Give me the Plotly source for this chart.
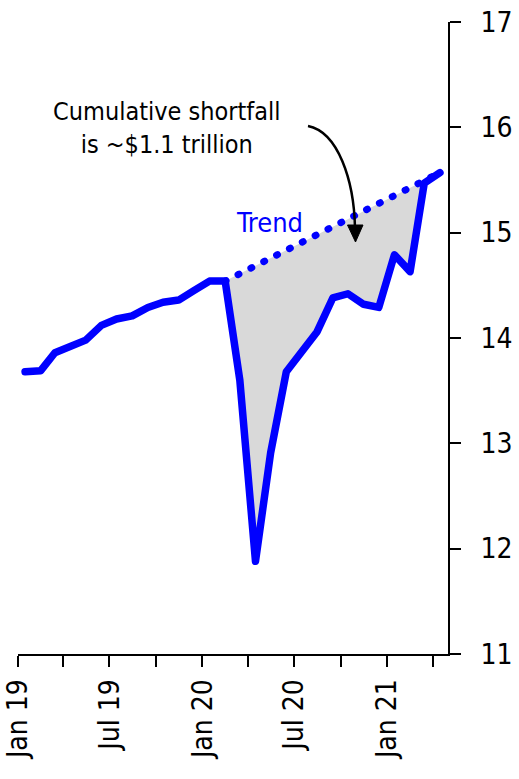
import pandas as pd
import plotly.graph_objects as go

# Monthly values (mid-month), Jan 2019 .. Apr 2021
months = pd.date_range("2019-01-01", periods=28, freq="MS") + pd.Timedelta(days=14)
actual = [13.68, 13.69, 13.86, 13.92, 13.98, 14.12, 14.18, 14.21, 14.29, 14.34, 14.36, 14.45,
          14.54, 14.54, 13.60, 11.88, 12.91, 13.68, 13.88, 14.06, 14.38, 14.42, 14.32, 14.29,
          14.79, 14.63, 15.47, 15.57]

# Trend (pre-pandemic path) endpoints: Feb 2020 -> Apr 2021
trend_x = [months[13], months[27]]
trend_y = [14.54, 15.57]

tick_dates = pd.date_range("2019-01-01", "2021-04-01", freq="3MS")
tick_text = ["Jan 19", "", "Jul 19", "", "Jan 20", "", "Jul 20", "", "Jan 21", ""]
y_ticks = [11, 12, 13, 14, 15, 16, 17]

FONT = "DejaVu Sans Condensed, DejaVu Sans"
BLUE = "#0000ff"

fig = go.Figure()
# lower boundary of shortfall area (actual from Feb 2020 on), invisible
fig.add_trace(go.Scatter(x=list(months[13:]), y=actual[13:], mode="lines",
                         line=dict(width=0, color="rgba(0,0,0,0)"), hoverinfo="skip",
                         showlegend=False))
# trend with fill down to actual
fig.add_trace(go.Scatter(x=trend_x, y=trend_y, mode="lines", fill="tonexty",
                         fillcolor="#d9d9d9",
                         line=dict(color=BLUE, width=7, dash="1px,13.4px"),
                         showlegend=False))
# actual line
fig.add_trace(go.Scatter(x=list(months), y=actual, mode="lines",
                         line=dict(color=BLUE, width=7.5), showlegend=False))

# plot area pixel geometry helpers for annotations
L, R, T, B = 18, 448, 22, 654
def px(x):
    return (x - L) / (R - L)
def py(y):
    return (B - y) / (B - T)

fig.add_annotation(x=px(167), y=py(128), xref="paper", yref="paper",
                   text="Cumulative shortfall<br>is ~$1.1 trillion", showarrow=False,
                   font=dict(family=FONT, size=25, color="black"),
                   xanchor="center", yanchor="middle", align="center")
fig.add_annotation(x=px(269), y=py(222), xref="paper", yref="paper",
                   text="Trend", showarrow=False,
                   font=dict(family=FONT, size=27, color=BLUE),
                   xanchor="center", yanchor="middle")

# curved arrow
p0, p1, p2, p3 = (308, 126), (338, 132), (354, 180), (355, 228)
path = "M {},{} C {},{} {},{} {},{}".format(px(p0[0]), py(p0[1]), px(p1[0]), py(p1[1]),
                                             px(p2[0]), py(p2[1]), px(p3[0]), py(p3[1]))
fig.add_shape(type="path", path=path, xref="paper", yref="paper",
              line=dict(color="black", width=2.5))
head = "M {},{} L {},{} L {},{} Z".format(px(347.5), py(225), px(363), py(225), px(355.5), py(242))
fig.add_shape(type="path", path=head, xref="paper", yref="paper",
              line=dict(color="black", width=1), fillcolor="black")

fig.update_layout(
    width=519, height=779,
    margin=dict(l=L, r=519 - R, t=T, b=779 - B, autoexpand=False),
    paper_bgcolor="white", plot_bgcolor="white",
    font=dict(family=FONT, color="black"),
    xaxis=dict(type="date", range=["2019-01-01", "2021-05-01"], automargin=False,
               tickvals=list(tick_dates), ticktext=tick_text, tickangle=-90,
               ticks="outside", ticklen=11, tickwidth=2, tickcolor="black",
               showline=True, linecolor="black", linewidth=2,
               showgrid=False, zeroline=False,
               tickfont=dict(family=FONT, size=28, color="black"),
               ticklabelstandoff=1),
    yaxis=dict(side="right", range=[11, 17], tickvals=y_ticks, automargin=False,
               ticks="outside", ticklen=11, tickwidth=2, tickcolor="black",
               showline=True, linecolor="black", linewidth=2,
               showgrid=False, zeroline=False,
               tickfont=dict(family=FONT, size=28, color="black"),
               ticklabelstandoff=14),
)

post = """
document.body.style.margin = '0';
document.body.style.padding = '0';
var gd = document.getElementById('{plot_id}');
function fixCaps(){
  document.querySelectorAll('.scatterlayer .js-line').forEach(function(p){
    p.style.strokeLinecap='round'; p.style.strokeLinejoin='round';
  });
}
fixCaps();
if (gd && gd.on) { gd.on('plotly_afterplot', fixCaps); }
"""
fig.write_html("out.html", post_script=post, config={"displayModeBar": False})
